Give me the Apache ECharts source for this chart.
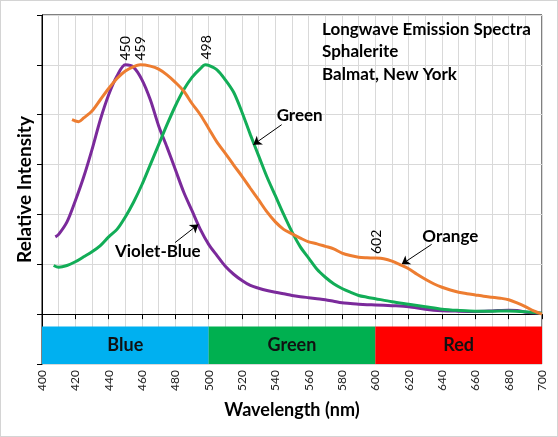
<!DOCTYPE html>
<html><head><meta charset="utf-8">
<script src="https://cdn.jsdelivr.net/npm/echarts@6/dist/echarts.min.js"></script>
<style>
html,body{margin:0;padding:0;background:#fff;}
#chart{position:absolute;left:0;top:0;width:558px;height:437px;}
#frame{position:absolute;left:0;top:0;width:558px;height:437px;box-sizing:border-box;border:1px solid #d4d4d4;pointer-events:none;}
</style></head>
<body><div id="chart"></div><div id="frame"></div>
<script>
// ---- data ----
const violetX = [408,410,415,420,425,430,435,440,445,450,455,460,465,470,475,480,485,490,495,500,505,510,515,520,525,530,535,540,545,550,555,560,565,570,575,580,585,590,595,600,610,620,630,640,650,660,670,680,685,690,700];
const violetY = [0.31,0.32,0.37,0.455,0.55,0.66,0.78,0.88,0.955,1.0,0.99,0.94,0.86,0.755,0.67,0.58,0.49,0.415,0.34,0.28,0.235,0.192,0.16,0.135,0.115,0.104,0.095,0.088,0.082,0.075,0.07,0.066,0.062,0.058,0.052,0.046,0.043,0.04,0.038,0.037,0.034,0.03,0.02,0.014,0.012,0.011,0.013,0.016,0.015,0.008,0.004];

const greenX = [407,410,415,420,425,430,435,440,445,450,455,460,465,470,475,480,485,490,495,498,500,505,510,515,520,525,530,535,540,545,550,555,560,565,570,575,580,585,590,595,600,610,620,630,640,650,660,670,680,690,700];
const greenY = [0.195,0.188,0.195,0.21,0.23,0.25,0.275,0.31,0.34,0.39,0.45,0.52,0.6,0.68,0.76,0.835,0.9,0.95,0.985,1.0,0.998,0.98,0.94,0.89,0.81,0.72,0.635,0.55,0.475,0.4,0.33,0.27,0.225,0.18,0.148,0.122,0.103,0.088,0.075,0.068,0.062,0.05,0.04,0.03,0.02,0.015,0.012,0.012,0.013,0.01,0.004];

const orangeX = [418,420,422,425,430,435,440,445,450,455,459,465,470,475,480,485,490,495,500,505,510,515,520,525,530,535,540,545,550,555,560,565,570,575,580,585,590,595,600,605,610,615,620,625,630,635,640,645,650,655,660,665,670,675,680,685,690,695,700];
const orangeY = [0.78,0.775,0.772,0.787,0.815,0.86,0.905,0.945,0.975,0.993,1.0,0.995,0.983,0.96,0.93,0.895,0.845,0.8,0.745,0.69,0.645,0.598,0.553,0.505,0.458,0.41,0.37,0.34,0.322,0.305,0.29,0.282,0.272,0.262,0.245,0.235,0.228,0.226,0.225,0.222,0.213,0.198,0.182,0.16,0.14,0.122,0.108,0.097,0.088,0.082,0.077,0.072,0.068,0.064,0.058,0.045,0.03,0.013,0.0];

const xTicks = [400,420,440,460,480,500,520,540,560,580,600,620,640,660,680,700];
const bandNames = ['Blue','Green','Red'];
const bandStarts = [400,500,600];
const bandEnds = [500,600,700];
const peakLabels = ['450','459','498','602'];
const peakX = [450,459,498,602];
const titleLines = ['Longwave Emission Spectra','Sphalerite','Balmat, New York'];

const FONT = 'Lato, "Open Sans", sans-serif';
const pairs = (xs, ys) => xs.map((x, i) => [x, ys[i]]);

const chart = echarts.init(document.getElementById('chart'), null, {renderer: 'canvas'});

const arrowLine = (a, b) => [{coord: a}, {coord: b}];
const textPoint = (txt, coord) => ({
  coord: coord, value: txt, symbolSize: 0,
  label: {show: true, position: 'inside', formatter: txt, color: '#000', fontFamily: FONT, fontSize: 17, fontWeight: 'bold'}
});
const peakPoint = (txt, coord) => ({
  coord: coord, value: txt, symbolSize: 0,
  label: {show: true, position: 'inside', formatter: txt, rotate: 90, color: '#000', fontFamily: FONT, fontSize: 14}
});

const bandColors = ['#00B0F0', '#00B050', '#FF0000'];

chart.setOption({
  animation: false,
  backgroundColor: '#fff',
  title: {
    text: titleLines.join('\n'),
    left: 317, top: 13,
    textStyle: {fontFamily: FONT, fontSize: 17, fontWeight: 'bold', color: '#000', lineHeight: 22.5}
  },
  grid: {left: 42, right: 16, top: 15, bottom: 73, show: true, borderColor: '#000', borderWidth: 1, backgroundColor: 'transparent'},
  xAxis: {
    type: 'value', min: 400, max: 700, interval: 20,
    name: 'Wavelength (nm)', nameLocation: 'middle', nameGap: 37,
    nameTextStyle: {fontFamily: FONT, fontSize: 18, fontWeight: 'bold', color: '#000'},
    axisLine: {show: true, lineStyle: {color: '#000', width: 1}},
    axisTick: {show: true, length: 5, lineStyle: {color: '#000'}},
    axisLabel: {rotate: 90, margin: 6, fontFamily: FONT, fontSize: 12, color: '#222',
      formatter: v => xTicks.indexOf(v) >= 0 ? String(v) : ''},
    splitLine: {show: true, lineStyle: {color: '#d9d9d9', width: 1}},
    minorTick: {show: false, splitNumber: 2},
    minorSplitLine: {show: true, lineStyle: {color: '#d9d9d9', width: 1}}
  },
  yAxis: {
    type: 'value', min: -0.2, max: 1.2, interval: 0.2,
    name: 'Relative Intensity', nameLocation: 'middle', nameGap: 8,
    nameTextStyle: {fontFamily: FONT, fontSize: 19, fontWeight: 'bold', color: '#000'},
    axisLine: {show: true, lineStyle: {color: '#000', width: 1}},
    axisTick: {show: true, length: 5, lineStyle: {color: '#000'}},
    axisLabel: {show: false},
    splitLine: {show: true, lineStyle: {color: '#d9d9d9', width: 1}}
  },
  series: [
    {
      name: 'Bands', type: 'line', data: [], silent: true,
      markArea: {
        silent: true,
        data: bandNames.map((n, i) => [
          {name: n, xAxis: bandStarts[i], yAxis: -0.2, itemStyle: {color: bandColors[i], opacity: 1},
           label: {show: true, position: 'inside', color: '#111', fontFamily: FONT, fontSize: 18, fontWeight: 'bold'}},
          {xAxis: bandEnds[i], yAxis: -0.05}
        ])
      }
    },
    {
      name: 'Violet-Blue', type: 'line', data: pairs(violetX, violetY), showSymbol: false, smooth: 0.3,
      lineStyle: {color: '#7B2A9B', width: 3}, itemStyle: {color: '#7B2A9B'}, z: 3,
      markPoint: {silent: true, data: [
        textPoint('Violet-Blue', [469.5, 0.25]),
        peakPoint(peakLabels[0], [peakX[0] - 0.2, 1.066])
      ]},
      markLine: {silent: true, symbol: ['none', 'arrow'], symbolSize: 8,
        lineStyle: {color: '#000', width: 1, type: 'solid'}, label: {show: false},
        data: [arrowLine([479.8, 0.287], [493.8, 0.36])]}
    },
    {
      name: 'Green', type: 'line', data: pairs(greenX, greenY), showSymbol: false, smooth: 0.3,
      lineStyle: {color: '#12AD57', width: 3}, itemStyle: {color: '#12AD57'}, z: 4,
      markPoint: {silent: true, data: [
        textPoint('Green', [554.6, 0.796]),
        peakPoint(peakLabels[2], [peakX[2] + 0.8, 1.07])
      ]},
      markLine: {silent: true, symbol: ['none', 'arrow'], symbolSize: 8,
        lineStyle: {color: '#000', width: 1, type: 'solid'}, label: {show: false},
        data: [arrowLine([543.8, 0.76], [526.8, 0.68])]}
    },
    {
      name: 'Orange', type: 'line', data: pairs(orangeX, orangeY), showSymbol: false, smooth: 0.3,
      lineStyle: {color: '#ED7D31', width: 3}, itemStyle: {color: '#ED7D31'}, z: 5,
      markPoint: {silent: true, data: [
        textPoint('Orange', [645, 0.311]),
        peakPoint(peakLabels[1], [peakX[1] - 0.2, 1.066]),
        peakPoint(peakLabels[3], [peakX[3] - 1.2, 0.29])
      ]},
      markLine: {silent: true, symbol: ['none', 'arrow'], symbolSize: 8,
        lineStyle: {color: '#000', width: 1, type: 'solid'}, label: {show: false},
        data: [arrowLine([633.8, 0.28], [615.8, 0.2])]}
    }
  ]
});
</script>
</body></html>
